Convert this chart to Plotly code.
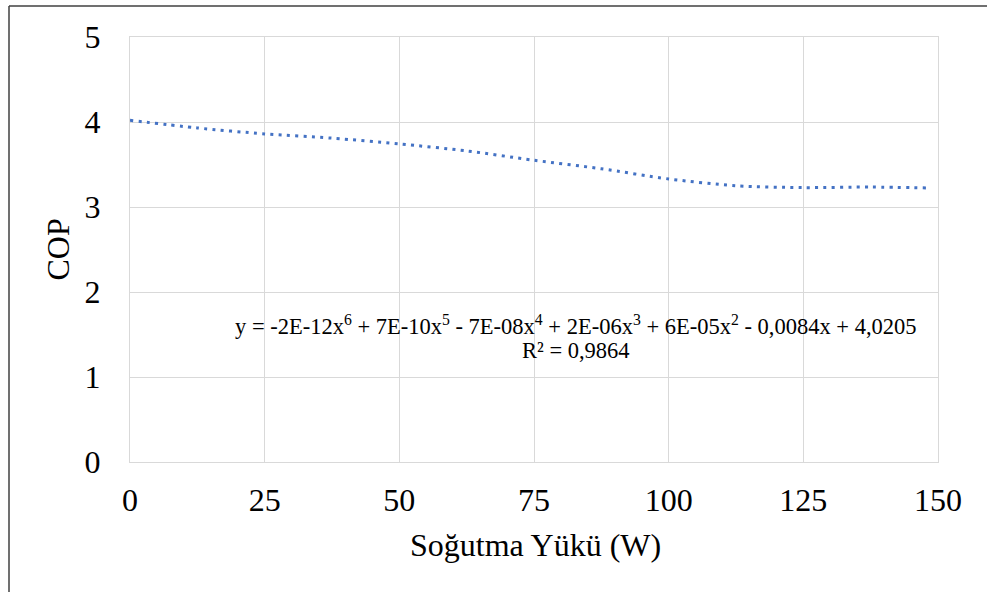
import plotly.graph_objects as go

# Cooling load (W) and COP along the 6th-order polynomial trend
load_w = [0, 12.5, 25, 37.5, 50, 62.5, 75, 87.5, 100, 112.5, 125, 137.5, 148]
cop = [4.02, 3.93, 3.86, 3.81, 3.742, 3.66, 3.55, 3.45, 3.33, 3.25, 3.228, 3.235, 3.224]

x_ticks = [0, 25, 50, 75, 100, 125, 150]
y_ticks = [0, 1, 2, 3, 4, 5]

equation = ("y = -2E-12x<sup>6</sup> + 7E-10x<sup>5</sup> - 7E-08x<sup>4</sup> + 2E-06x<sup>3</sup>"
            " + 6E-05x<sup>2</sup> - 0,0084x + 4,0205")
r_squared = "R² = 0,9864"

W, H = 987, 592
L, R, T, B = 130, 49, 37, 130
pw, ph = W - L - R, H - T - B


def px_x(p):
    return (p - L) / pw


def px_y(p):
    return (H - B - p) / ph


FONT = "Liberation Serif"
GRID = "#d9d9d9"

fig = go.Figure()
fig.add_trace(go.Scatter(
    x=load_w, y=cop, mode="lines",
    line=dict(color="#4472C4", width=3, dash="3px,5.3px", shape="spline", smoothing=0.8),
    hoverinfo="skip", showlegend=False,
))

fig.update_layout(
    width=W, height=H,
    margin=dict(l=L, r=R, t=T, b=B),
    paper_bgcolor="white", plot_bgcolor="white",
    font=dict(family=FONT, color="black"),
    xaxis=dict(
        range=[0, 150], tickvals=x_ticks, ticktext=[str(v) for v in x_ticks],
        showgrid=True, gridcolor=GRID, gridwidth=1.3,
        showline=True, linecolor=GRID, linewidth=1.3, mirror=True,
        zeroline=False, ticks="outside", ticklen=9, tickcolor="rgba(0,0,0,0)",
        tickfont=dict(family=FONT, size=32, color="black"),
    ),
    yaxis=dict(
        range=[0, 5], tickvals=y_ticks, ticktext=[str(v) for v in y_ticks],
        showgrid=True, gridcolor=GRID, gridwidth=1.3,
        showline=True, linecolor=GRID, linewidth=1.3, mirror=True,
        zeroline=False, ticks="outside", ticklen=22, tickcolor="rgba(0,0,0,0)",
        tickfont=dict(family=FONT, size=32, color="black"),
    ),
)

# Axis titles
fig.add_annotation(text="COP", textangle=-90, xref="paper", yref="paper",
                   x=px_x(57), y=0.5, xanchor="center", yanchor="middle",
                   showarrow=False, font=dict(family=FONT, size=32, color="black"))
fig.add_annotation(text="Soğutma Yükü (W)", xref="paper", yref="paper",
                   x=px_x(535), y=px_y(545), xanchor="center", yanchor="middle",
                   showarrow=False, font=dict(family=FONT, size=32, color="black"))

# Trendline equation and R²
fig.add_annotation(text=equation, xref="paper", yref="paper",
                   x=px_x(576), y=px_y(325), xanchor="center", yanchor="middle",
                   showarrow=False, font=dict(family=FONT, size=22.5, color="black"))
fig.add_annotation(text=r_squared, xref="paper", yref="paper",
                   x=px_x(576), y=px_y(350), xanchor="center", yanchor="middle",
                   showarrow=False, font=dict(family=FONT, size=22.5, color="black"))

# Chart frame (left and top edges)
fig.add_shape(type="line", xref="paper", yref="paper",
              x0=px_x(9), x1=px_x(9), y0=px_y(6), y1=px_y(600),
              line=dict(color="#404040", width=1.5))
fig.add_shape(type="line", xref="paper", yref="paper",
              x0=px_x(9), x1=px_x(995), y0=px_y(6), y1=px_y(6),
              line=dict(color="#404040", width=1.5))

fig.write_html("out.html")
